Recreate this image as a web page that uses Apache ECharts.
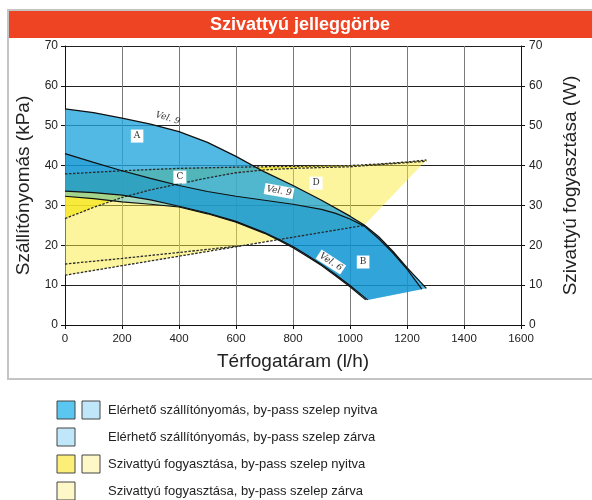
<!DOCTYPE html>
<html lang="hu">
<head>
<meta charset="UTF-8">
<title>Szivattyú jelleggörbe</title>
<script src="https://cdn.jsdelivr.net/npm/echarts@6/dist/echarts.min.js"></script>
<style>
	html, body { margin: 0; padding: 0; background: #fff; }
	#main { width: 592px; height: 500px; }
</style>
</head>
<body>
<div id="main"></div>
<script>
	// szállítónyomás görbék [l/h, kPa]
	var vel9Felso = [[0,54.2],[100,53.3],[200,51.9],[300,50.4],[400,48.5],[500,45.8],[600,42.3],[700,38.4],[800,35.0],[900,31.3],[1000,27.3],[1050,25.1],[1100,22.2],[1150,18.5],[1200,14.4],[1268,9.2]];
	var vel9Also = [[0,43.0],[100,40.8],[200,38.7],[300,36.8],[400,35.0],[500,33.5],[600,32.3],[700,31.3],[800,30.3],[900,29.0],[950,28.0],[1000,26.6],[1050,24.8],[1100,21.7],[1150,18.1],[1200,14.0],[1252,9.0]];
	var vel6Felso = [[0,33.6],[100,33.2],[200,32.6],[300,31.4],[400,29.8],[500,28.1],[600,26.0],[700,23.2],[750,21.5],[800,19.7],[850,17.5],[900,15.2],[950,12.6],[1000,9.9],[1062,6.3]];
	var vel6Also = [[0,32.3],[100,31.7],[200,30.9],[300,30.3],[400,29.6],[500,27.9],[600,25.8],[700,23.0],[750,21.3],[800,19.4],[850,17.2],[900,14.9],[950,12.3],[1000,9.6],[1055,6.3]];

	// fogyasztás görbék [l/h, W]
	var fogyFelso = [[0,37.9],[200,38.7],[400,39.3],[600,39.6],[800,39.8],[1000,40.0],[1100,40.4],[1200,40.9],[1268,41.4]];
	var fogyNyitva = [[0,26.7],[100,29.5],[200,32.0],[300,33.9],[400,35.4],[500,36.9],[600,38.2],[700,38.9],[800,39.3],[1000,39.7],[1268,41.1]];
	var fogyKozep = [[0,15.3],[200,16.7],[400,18.2],[620,19.9]];
	var fogyAlso = [[0,12.5],[1050,25.0]];

	// feliratok a grafikonon
	var cimkeNevek = ['Vel. 9', 'A', 'C', 'D', 'Vel. 9', 'Vel. 6', 'B'];
	var cimkeHelyek = [[361,51.9],[253,47.4],[403,37.1],[881,35.6],[751,33.6],[933,15.8],[1046,15.8]];
	var cimkeForgatas = [-17, 0, 0, 0, -10, -33, 0];

	var legendSzovegek = [
		'Elérhető szállítónyomás, by-pass szelep nyitva',
		'Elérhető szállítónyomás, by-pass szelep zárva',
		'Szivattyú fogyasztása, by-pass szelep nyitva',
		'Szivattyú fogyasztása, by-pass szelep zárva'
	];

	function forditva(a) { return a.slice().reverse(); }

	function terulet(pontok, szin, tengely) {
		return {
			type: 'custom',
			yAxisIndex: tengely || 0,
			silent: true,
			z: 2,
			data: [pontok[0]],
			renderItem: function (params, api) {
				return {
					type: 'polygon',
					shape: { points: pontok.map(function (p) { return api.coord(p); }) },
					style: { fill: szin }
				};
			}
		};
	}

	function vonal(pontok, vastag, tipus, tengely) {
		return {
			type: 'line',
			yAxisIndex: tengely || 0,
			data: pontok,
			symbol: 'none',
			silent: true,
			z: tipus === 'solid' ? 4 : 3,
			lineStyle: { color: tipus === 'solid' ? '#111' : '#2a2a2a', width: vastag, type: tipus === 'solid' ? 'solid' : [2.5, 1.5] }
		};
	}

	var betu = '"Liberation Sans", Arial, sans-serif';
	var serif = '"DejaVu Serif", "Liberation Serif", serif';

	var legendElemek = [];
	var legendSzinek = [['#5bc6f0', '#c0e7f9'], ['#c0e7f9'], ['#fcef78', '#fef8c8'], ['#fef8c8']];
	legendSzovegek.forEach(function (t, i) {
		var y = 410 + i * 27;
		legendSzinek[i].forEach(function (sz, j) {
			legendElemek.push({
				type: 'rect',
				shape: { x: 57 + j * 25, y: y - 9, width: 18, height: 18 },
				style: { fill: sz, stroke: '#444', lineWidth: 1 }
			});
		});
		legendElemek.push({
			type: 'text', x: 108, y: y,
			style: { text: t, fill: '#222', font: '13px ' + betu, textVerticalAlign: 'middle' }
		});
	});

	function szam(v) { return String(v); }

	var myChart = echarts.init(document.getElementById('main'));
	var option = {
		animation: false,
		grid: { left: 65, right: 71, top: 46, bottom: 175 },
		graphic: [
			{ type: 'rect', shape: { x: 8, y: 10, width: 600, height: 369 }, style: { fill: 'none', stroke: '#c4c4c4', lineWidth: 2 }, z: 0 },
			{ type: 'rect', shape: { x: 9, y: 11, width: 583, height: 27 }, style: { fill: '#ee4424' } },
			{ type: 'text', x: 300, y: 25, style: { text: 'Szivattyú jelleggörbe', fill: '#fff', font: 'bold 18px ' + betu, textAlign: 'center', textVerticalAlign: 'middle' } }
		].concat(legendElemek),
		xAxis: {
			type: 'value', min: 0, max: 1600, interval: 200,
			name: 'Térfogatáram (l/h)', nameLocation: 'middle', nameGap: 27,
			nameTextStyle: { fontSize: 19, color: '#222', fontFamily: betu },
			axisLine: { lineStyle: { color: '#111' } },
			axisTick: { length: 4, lineStyle: { color: '#111' } },
			axisLabel: { fontSize: 11.5, color: '#222', margin: 8, fontFamily: betu, formatter: szam },
			splitLine: { lineStyle: { color: '#7a7a7a' } }
		},
		yAxis: [
			{
				type: 'value', min: 0, max: 70, interval: 10,
				name: 'Szállítónyomás (kPa)', nameLocation: 'middle', nameGap: 26, nameRotate: 90,
				nameTextStyle: { fontSize: 19, color: '#222', fontFamily: betu },
				axisLine: { show: true, lineStyle: { color: '#111' } },
				axisTick: { show: true, length: 4, lineStyle: { color: '#111' } },
				axisLabel: { fontSize: 12, color: '#222', margin: 7, fontFamily: betu },
				splitLine: { lineStyle: { color: '#222' } }
			},
			{
				type: 'value', position: 'right', min: 0, max: 70, interval: 10,
				name: 'Szivattyú fogyasztása (W)', nameLocation: 'middle', nameGap: 40, nameRotate: 90,
				nameTextStyle: { fontSize: 19, color: '#222', fontFamily: betu },
				axisLine: { show: true, lineStyle: { color: '#111' } },
				axisTick: { show: true, length: 4, lineStyle: { color: '#111' } },
				axisLabel: { fontSize: 12, color: '#222', margin: 8, fontFamily: betu },
				splitLine: { show: false }
			}
		],
		series: [
			terulet(fogyFelso.concat(forditva(fogyAlso)), 'rgba(250,235,60,0.5)', 1),
			terulet(fogyFelso.concat(forditva(fogyNyitva)), 'rgba(248,232,38,0.8)', 1),
			terulet(vel9Felso.concat(forditva(vel6Also)), 'rgba(62,184,235,0.45)'),
			terulet(vel9Felso.concat(forditva(vel6Felso)), 'rgba(25,160,216,0.6)'),
			terulet(vel9Also.concat(forditva(vel6Felso)), 'rgba(0,135,203,0.4)'),
			vonal(fogyFelso, 1.3, 'dashed', 1),
			vonal(fogyNyitva, 1.3, 'dashed', 1),
			vonal(fogyKozep, 1.3, 'dashed', 1),
			vonal(fogyAlso, 1.3, 'dashed', 1),
			vonal(vel9Felso, 1.3, 'solid'),
			vonal(vel9Also, 1.2, 'solid'),
			vonal(vel6Felso, 1.2, 'solid'),
			vonal(vel6Also, 1.2, 'solid'),
			{
				type: 'custom',
				silent: true,
				z: 5,
				data: cimkeHelyek,
				renderItem: function (params, api) {
					var i = params.dataIndex;
					var n = cimkeNevek[i];
					var vel = n.indexOf('Vel') === 0;
					var p = api.coord([api.value(0), api.value(1)]);
					return {
						type: 'text',
						x: p[0], y: p[1],
						rotation: -cimkeForgatas[i] * Math.PI / 180 * -1,
						style: {
							text: n,
							fill: '#333',
							font: (vel ? 'italic ' : '') + '9px ' + serif,
							align: 'center', verticalAlign: 'middle',
							backgroundColor: i === 0 ? null : '#fff',
							padding: vel ? [1, 2] : [2, 3]
						}
					};
				}
			}
		]
	};

	myChart.setOption(option);
</script>
</body>
</html>
